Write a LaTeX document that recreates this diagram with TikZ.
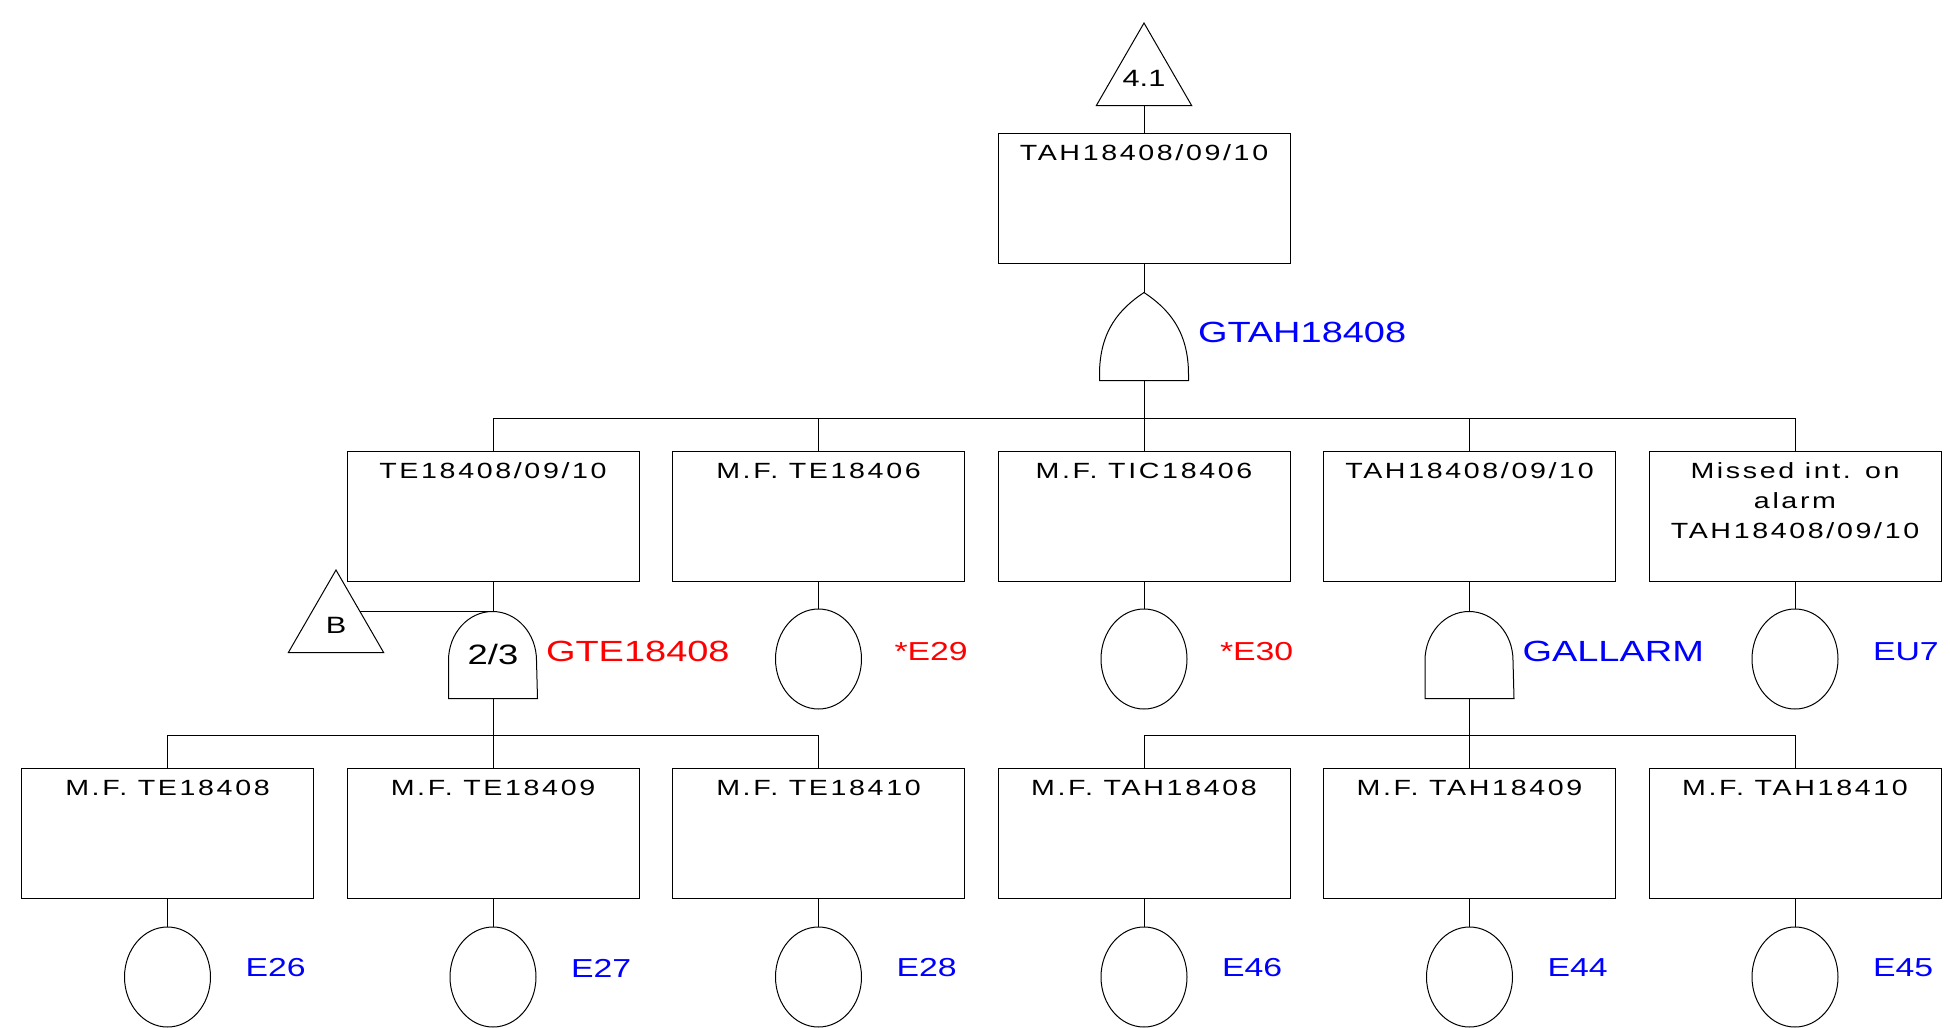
\documentclass[tikz,border=0pt]{standalone}
\usepackage{fontspec}
\setmainfont{Liberation Sans}[FakeStretch=1.3]
\newfontfamily\boxfont{Liberation Sans}[FakeStretch=1.3, LetterSpace=12]
\definecolor{tagBlue}{HTML}{0000FF}
\definecolor{tagRed}{HTML}{FF0000}
\usetikzlibrary{shapes.geometric, positioning}

\begin{document}
\begin{tikzpicture}[
        x=50pt, y=50pt, line width=0.5pt,
        event/.style={rectangle, draw, minimum width=146pt, minimum height=65pt, inner sep=0pt,
                      label={[anchor=north, yshift=-6pt, inner sep=0pt, align=center,
                              font=\boxfont\fontsize{11}{15}\selectfont]north:#1}},
        basic/.style={ellipse, draw, minimum width=43pt, minimum height=50pt, inner sep=0pt},
        transfer/.style={regular polygon, regular polygon sides=3, draw, minimum size=55pt,
                         inner sep=-8pt, font=\fontsize{11.8}{14}\selectfont},
        gate/.style={rectangle, minimum width=44pt, minimum height=43.5pt, inner sep=0pt,
                     font=\fontsize{14}{16}\selectfont},
        tag/.style={inner sep=0pt, font=\fontsize{13}{16}\selectfont, text=#1},
        gatetag/.style={tag=#1, font=\fontsize{14.6}{18}\selectfont}
      ]
        \useasboundingbox (0,0) rectangle (19.5,-10.28);

        \node[transfer] (t41) at (11.44,-0.78) {4.1};
        \node[event={TAH18408/09/10}] (top) at (11.44,-1.98) {};
        \node[gate] (orgate) at (11.44,-3.365) {};
        \node[gatetag=tagBlue, right=4.5pt of orgate, yshift=2pt] (gtah) {GTAH18408};

        \node[event={TE18408/09/10}] (te) at (4.93,-5.16) {};
        \node[event={M.F. TE18406}] (mf406) at (8.185,-5.16) {};
        \node[event={M.F. TIC18406}] (tic406) at (11.44,-5.16) {};
        \node[event={TAH18408/09/10}] (tah) at (14.695,-5.16) {};
        \node[event={Missed int. on\\alarm\\TAH18408/09/10}] (missed) at (17.95,-5.16) {};

        \node[gate] (vote) at (4.93,-6.545) {2/3};
        \node[transfer] (b) at (3.36,-6.25) {B};
        \node[gatetag=tagRed, right=4pt of vote, yshift=1.75pt] (gte) {GTE18408};
        \node[basic] (e29) at (8.185,-6.59) {};
        \node[tag=tagRed, right=16pt of e29, yshift=3.5pt] (le29) {*E29};
        \node[basic] (e30) at (11.44,-6.59) {};
        \node[tag=tagRed, right=16pt of e30, yshift=3.5pt] (le30) {*E30};
        \node[gate] (alarm) at (14.695,-6.545) {};
        \node[gatetag=tagBlue, right=4pt of alarm, yshift=1.75pt] (gal) {GALLARM};
        \node[basic] (eu7) at (17.95,-6.59) {};
        \node[tag=tagBlue, right=17pt of eu7, yshift=3.5pt] (leu7) {EU7};

        \node[event={M.F. TE18408}] (mf408) at (1.675,-8.335) {};
        \node[event={M.F. TE18409}] (mf409) at (4.93,-8.335) {};
        \node[event={M.F. TE18410}] (mf410) at (8.185,-8.335) {};
        \node[event={M.F. TAH18408}] (mfa408) at (11.44,-8.335) {};
        \node[event={M.F. TAH18409}] (mfa409) at (14.695,-8.335) {};
        \node[event={M.F. TAH18410}] (mfa410) at (17.95,-8.335) {};

        \node[basic] (e26) at (1.675,-9.77) {};
        \node[tag=tagBlue, right=17pt of e26, yshift=4.5pt] (le26) {E26};
        \node[basic] (e27) at (4.93,-9.77) {};
        \node[tag=tagBlue, right=17pt of e27, yshift=4.5pt] (le27) {E27};
        \node[basic] (e28) at (8.185,-9.77) {};
        \node[tag=tagBlue, right=17pt of e28, yshift=4.5pt] (le28) {E28};
        \node[basic] (e46) at (11.44,-9.77) {};
        \node[tag=tagBlue, right=17pt of e46, yshift=4.5pt] (le46) {E46};
        \node[basic] (e44) at (14.695,-9.77) {};
        \node[tag=tagBlue, right=17pt of e44, yshift=4.5pt] (le44) {E44};
        \node[basic] (e45) at (17.95,-9.77) {};
        \node[tag=tagBlue, right=17pt of e45, yshift=4.5pt] (le45) {E45};

        \draw (orgate.south west) -- ++(0,3pt) .. controls +(0,22pt) and +(-12pt,-8pt) .. (orgate.north)
              .. controls +(12pt,-8pt) and +(0,22pt) .. ([yshift=3pt]orgate.south east) -- (orgate.south east) -- cycle;
        \draw (vote.south west) -- ++(0,19pt) arc[start angle=180, end angle=0, x radius=22pt, y radius=24.5pt]
              -- (vote.south east) -- cycle;
        \draw (alarm.south west) -- ++(0,19pt) arc[start angle=180, end angle=0, x radius=22pt, y radius=24.5pt]
              -- (alarm.south east) -- cycle;

        \draw (t41.south) -- (top.north);
        \draw (top.south) -- (orgate.north);
        \draw (orgate.south) -- ++(0,-0.38) -| (te.north);
        \draw (orgate.south) -- ++(0,-0.38) -| (mf406.north);
        \draw (orgate.south) -- (tic406.north);
        \draw (orgate.south) -- ++(0,-0.38) -| (tah.north);
        \draw (orgate.south) -- ++(0,-0.38) -| (missed.north);

        \draw (te.south) -- (vote.north);
        \draw (b.side 3) -- (b.side 3 -| vote.north);
        \draw (mf406.south) -- (e29.north);
        \draw (tic406.south) -- (e30.north);
        \draw (tah.south) -- (alarm.north);
        \draw (missed.south) -- (eu7.north);

        \draw (vote.south) -- ++(0,-0.37) -| (mf408.north);
        \draw (vote.south) -- (mf409.north);
        \draw (vote.south) -- ++(0,-0.37) -| (mf410.north);
        \draw (alarm.south) -- ++(0,-0.37) -| (mfa408.north);
        \draw (alarm.south) -- (mfa409.north);
        \draw (alarm.south) -- ++(0,-0.37) -| (mfa410.north);

        \draw (mf408.south) -- (e26.north);
        \draw (mf409.south) -- (e27.north);
        \draw (mf410.south) -- (e28.north);
        \draw (mfa408.south) -- (e46.north);
        \draw (mfa409.south) -- (e44.north);
        \draw (mfa410.south) -- (e45.north);
      \end{tikzpicture}
\end{document}
